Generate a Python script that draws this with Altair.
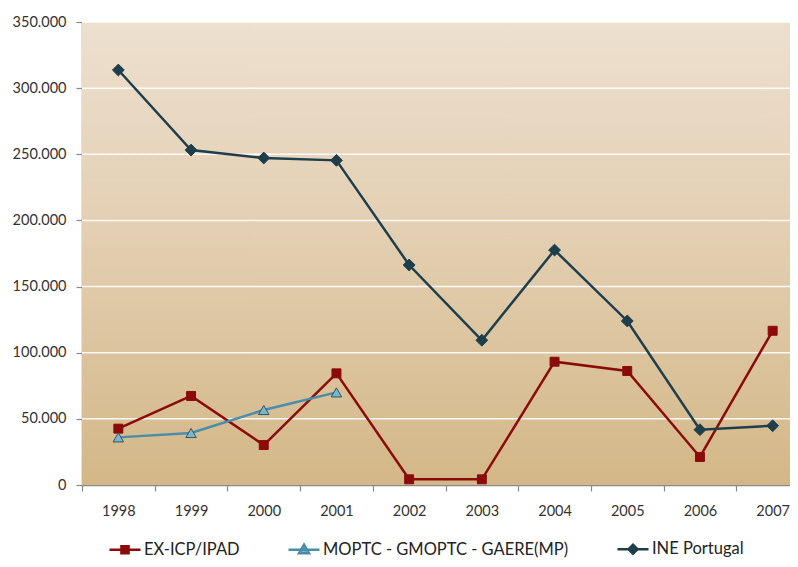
import altair as alt
import pandas as pd

years = ["1998", "1999", "2000", "2001", "2002", "2003", "2004", "2005", "2006", "2007"]
ex_icp = [42600, 67300, 30200, 84400, 4300, 4300, 93200, 86200, 21200, 116600]
moptc = [36000, 39300, 56700, 70000]  # 1998-2001 only
ine = [313700, 253200, 247200, 245400, 166300, 109400, 177600, 124000, 41800, 44800]
series_names = ["EX-ICP/IPAD", "MOPTC - GMOPTC - GAERE(MP)", "INE Portugal"]
y_ticks = [0, 50000, 100000, 150000, 200000, 250000, 300000, 350000]

line_colors = ["#8B0A0A", "#4A8DAA", "#1F3E4C"]
fill_colors = ["#8B0A0A", "#7DB5CB", "#1F3E4C"]
stroke_colors = ["#8B0A0A", "#2E5766", "#1F3E4C"]
marker_shapes = ["square", "triangle-up", "diamond"]
legend_shapes = [
    "M-1,0H1M-0.23,-0.23H0.23V0.23H-0.23Z",
    "M-1,0H1M0,-0.32L0.32,0.24H-0.32Z",
    "M-1,0H1M0,-0.29L0.29,0L0,0.29L-0.29,0Z",
]

rows = []
for name, vals in zip(series_names, [ex_icp, moptc, ine]):
    for yr, v in zip(years, vals):
        rows.append({"year": yr, "series": name, "value": v})
df = pd.DataFrame(rows)
grid_df = pd.DataFrame({"value": y_ticks[1:]})
bg_df = pd.DataFrame({"a": [0]})

W, H = 708, 463
FONT = "Lato"

x_scale = alt.Scale(type="band", domain=years, range=[0, 727], paddingInner=0, paddingOuter=0)
y_scale = alt.Scale(domain=[0, 350000], nice=False, zero=True)

y_axis = alt.Axis(values=y_ticks, grid=False, labelFont=FONT, labelFontSize=14.5,
                  labelColor="#333333", domainColor="#8a8a8a", tickColor="#8a8a8a",
                  tickSize=6, labelPadding=10, domainWidth=1.5, tickWidth=1.2,
                  labelExpr="replace(format(datum.value, ',d'), ',', '.')")

x_enc = alt.X(
    "year:O", scale=x_scale, bandPosition=0.5, title=None,
    axis=alt.Axis(tickBand="extent", labelAngle=0, labelFont=FONT, labelFontSize=14.5,
                  labelColor="#333333", domainColor="#8a8a8a", tickColor="#8a8a8a",
                  tickSize=6, labelPadding=13, domainWidth=1.5, tickWidth=1.2, grid=False),
)
y_enc = alt.Y("value:Q", scale=y_scale, title=None, axis=y_axis)

gradient = alt.LinearGradient(
    gradient="linear",
    stops=[alt.GradientStop(color="#EDE0CF", offset=0),
           alt.GradientStop(color="#E3CFB2", offset=0.45),
           alt.GradientStop(color="#D3B787", offset=1)],
    x1=0, x2=0, y1=0, y2=1,
)

bg = alt.Chart(bg_df).mark_rect(fill=gradient).encode(
    x=alt.value(0), x2=alt.value(W), y=alt.value(0), y2=alt.value(H)
)

grid = alt.Chart(grid_df).mark_rule(color="#FFFFFF", strokeWidth=1.5, opacity=0.9).encode(
    y=y_enc
)

lines = alt.Chart(df).mark_line(strokeWidth=2.5).encode(
    x=x_enc, y=y_enc,
    color=alt.Color("series:N", scale=alt.Scale(domain=series_names, range=line_colors), legend=None),
    detail="series:N",
)

points = alt.Chart(df).mark_point(filled=True, strokeWidth=1, opacity=1).encode(
    x=x_enc, y=y_enc,
    fill=alt.Fill("series:N", scale=alt.Scale(domain=series_names, range=fill_colors), legend=None),
    stroke=alt.Stroke("series:N", scale=alt.Scale(domain=series_names, range=stroke_colors), legend=None),
    shape=alt.Shape("series:N", scale=alt.Scale(domain=series_names, range=marker_shapes), legend=None),
    size=alt.Size("series:N", scale=alt.Scale(domain=series_names, range=[80, 140, 95]), legend=None),
)

leg = alt.Legend(
    title=None, orient="none", direction="horizontal", legendX=26, legendY=510,
    labelFont=FONT, labelFontSize=16.5, labelColor="#222222", labelOffset=2,
    columnPadding=43, symbolSize=961, symbolStrokeWidth=2.5, labelLimit=400,
)

legend_layer = alt.Chart(df).transform_filter("false").mark_point(filled=True, opacity=1).encode(
    x=x_enc, y=y_enc,
    fill=alt.Fill("series:N", scale=alt.Scale(domain=series_names, range=fill_colors), legend=leg),
    stroke=alt.Stroke("series:N", scale=alt.Scale(domain=series_names, range=line_colors), legend=leg),
    shape=alt.Shape("series:N", scale=alt.Scale(domain=series_names, range=legend_shapes), legend=leg),
)

chart = alt.layer(bg, grid, lines, points, legend_layer).resolve_scale(
    fill="independent", stroke="independent", shape="independent", size="independent"
).properties(
    width=W, height=H,
    autosize=alt.AutoSizeParams(type="none"),
    padding={"left": 74, "top": 14, "right": 0, "bottom": 74},
    background="#FFFFFF",
).configure_view(stroke=None)

chart.save("out.html", embed_options={"renderer": "svg", "actions": False})
